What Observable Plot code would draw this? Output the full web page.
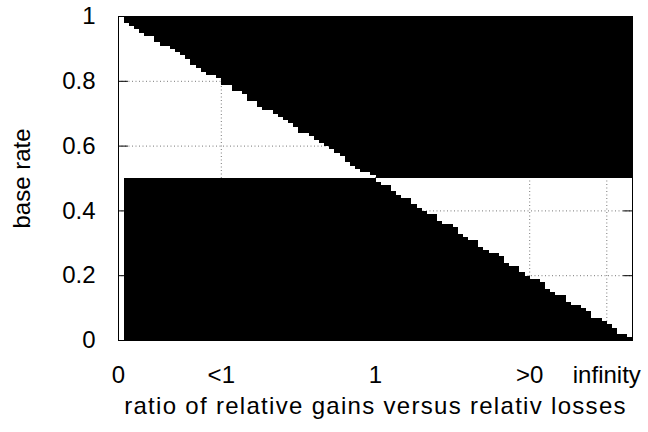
<!DOCTYPE html>
<html><head>
<meta charset="utf-8">
<script src="https://cdn.jsdelivr.net/npm/d3@7"></script>
<script src="https://cdn.jsdelivr.net/npm/@observablehq/plot@0.6"></script>
<style>body{margin:0;background:#fff}</style>
</head><body><div id="chart"></div>
<script>
// Tick positions (x is in map-column units 0..100) and their labels
const xTickValues = [0, 20, 50, 80, 95];
const xTickLabels = ["0", "<1", "1", ">0", "infinity"];
const yTickValues = [0, 0.2, 0.4, 0.6, 0.8, 1];
const yTickLabels = ["0", "0.2", "0.4", "0.6", "0.8", "1"];
const gridX = [20, 50, 80, 95];
const gridY = [0.2, 0.4, 0.6, 0.8];
const xDomain = [0, 100];
const yDomain = [0, 1];
// decision boundary: diagonal from (0,1) to (100,0) and base-rate threshold 0.5
const diagonalX = [0, 100];
const diagonalY = [1, 0];
const baseRateThreshold = [0.5];
const undecidedBelowX = [1];
const mapCells = [100, 100];

function diagAt(x) {
  return diagonalY[0] + (x - diagonalX[0]) * (diagonalY[1] - diagonalY[0]) / (diagonalX[1] - diagonalX[0]);
}
function isBlack(x, y) {
  if (x < undecidedBelowX[0]) return 0;
  const d = diagAt(x), t = baseRateThreshold[0];
  return (y > Math.max(d, t) || y < Math.min(d, t)) ? 1 : 0;
}

const tickShape = {draw(context, l) { context.moveTo(0, 0); context.lineTo(0, -l); }};
const TICK = 9;
const FS = 24;
const chart = Plot.plot({
  width: 648, height: 432,
  marginLeft: 118, marginRight: 16, marginTop: 16, marginBottom: 92,
  style: {fontFamily: "'Liberation Sans', Arial, sans-serif", fontSize: FS + "px", background: "#fff", color: "#000"},
  x: {domain: xDomain},
  y: {domain: yDomain},
  marks: [
    Plot.ruleX(gridX, {stroke: "#777", strokeDasharray: "1,2.5", strokeWidth: 1}),
    Plot.ruleY(gridY, {stroke: "#777", strokeDasharray: "1,2.5", strokeWidth: 1}),
    Plot.raster({x1: xDomain[0], x2: xDomain[1], y1: yDomain[0], y2: yDomain[1],
      width: mapCells[0], height: mapCells[1], fill: "black", fillOpacity: isBlack, imageRendering: "pixelated"}),
    // inward ticks on all four sides
    Plot.vector(yTickValues, {x: xDomain[0], y: d => d, length: TICK, rotate: 90, anchor: "start", shape: tickShape, stroke: "black", strokeWidth: 1}),
    Plot.vector(yTickValues, {x: xDomain[1], y: d => d, length: TICK, rotate: -90, anchor: "start", shape: tickShape, stroke: "black", strokeWidth: 1}),
    Plot.vector(xTickValues, {x: d => d, y: yDomain[0], length: TICK, rotate: 0, anchor: "start", shape: tickShape, stroke: "black", strokeWidth: 1}),
    Plot.vector(xTickValues, {x: d => d, y: yDomain[1], length: TICK, rotate: 180, anchor: "start", shape: tickShape, stroke: "black", strokeWidth: 1}),
    Plot.axisY(yTickValues, {anchor: "left", tickSize: 0, tickPadding: 23, fontSize: FS,
      tickFormat: d => yTickLabels[yTickValues.indexOf(d)],
      label: "base rate", labelAnchor: "center", labelArrow: "none", labelOffset: 106}),
    Plot.axisX(xTickValues, {anchor: "bottom", tickSize: 0, tickPadding: 25, fontSize: FS,
      tickFormat: d => xTickLabels[xTickValues.indexOf(d)],
      label: "ratio of relative gains versus relativ losses", labelAnchor: "center", labelArrow: "none", labelOffset: 73}),
    Plot.frame({stroke: "black", strokeWidth: 1})
  ]
});
document.getElementById("chart").appendChild(chart);
const xl = chart.querySelector('[aria-label="x-axis label"]');
if (xl) xl.setAttribute("letter-spacing", "1.3");
</script>
</body></html>
